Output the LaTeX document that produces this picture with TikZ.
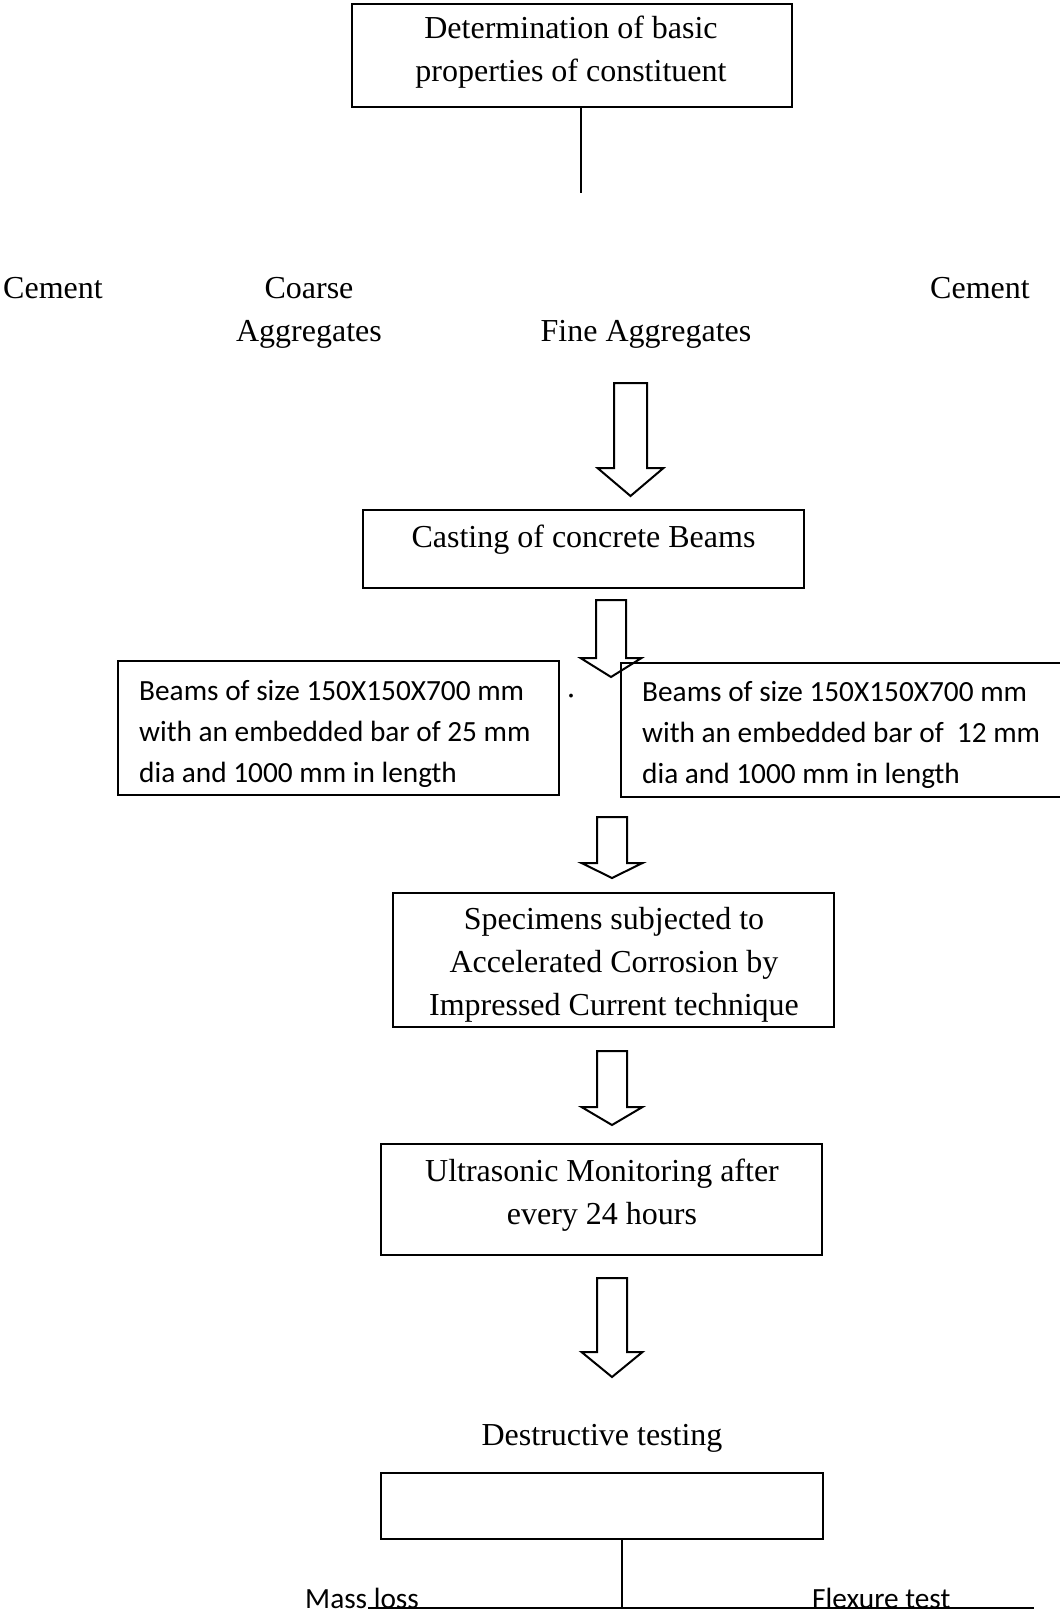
\documentclass[tikz,border=0pt]{standalone}
\usepackage{fontspec}
\setmainfont{Liberation Serif}
\newfontfamily\calib{Carlito}
\newcommand{\hollowarrow}[6]{%
  \draw[hollow] ({#1-#5},#2) -- ({#1+#5},#2) -- ({#1+#5},#3) -- ({#1+#6},#3) -- (#1,#4) -- ({#1-#6},#3) -- ({#1-#5},#3) -- cycle;}
\begin{document}
\begin{tikzpicture}[x=1pt,y=-1pt,
  box/.style={draw=black, line width=2pt, rectangle, inner sep=0pt, minimum width=441pt},
  serif/.style={font=\fontsize{32}{43}\selectfont, inner sep=0pt, align=center, anchor=base},
  sans/.style={font=\calib\fontsize{29.3}{41}\selectfont, inner sep=0pt, align=left, anchor=base west},
  conn/.style={draw=black, line width=2pt},
  hollow/.style={draw=black, line width=2pt, line join=miter}]
\useasboundingbox (0,0) rectangle (1060,1612);
\clip (0,0) rectangle (1060,1612);

% boxes
\node[box, minimum width=440pt, minimum height=103pt] (prop) at (572,55.5) {};
\node[box, minimum height=78pt] (cast) at (583.5,549) {};
\node[box, minimum height=134pt] (beamL) at (338.5,728) {};
\node[box, minimum height=134pt] (beamR) at (841.5,730) {};
\node[box, minimum height=134pt] (spec) at (613.5,960) {};
\node[box, minimum height=111pt] (ultra) at (601.5,1199.5) {};
\node[box, minimum width=442pt, minimum height=66pt] (dest) at (602,1506) {};

% texts (anchor base = baseline of the last line)
\node[serif] (tprop) at (571,81) {Determination of basic\\properties of constituent};
\node[serif] (cem1) at (53,298) {Cement};
\node[serif] (coarse) at (309,341) {Coarse\\Aggregates};
\node[serif] (fine) at (646,341) {Fine Aggregates};
\node[serif] (cem2) at (980,298) {Cement};
\node[serif] (tcast) at (583.5,547) {Casting of concrete Beams};
\node[sans] (tbeamL) at (139,782) {Beams of size 150X150X700 mm\\with an embedded bar of 25 mm\\dia and 1000 mm in length};
\node[sans] (tbeamR) at (642,783) {Beams of size 150X150X700 mm\\with an embedded bar of\ \ 12 mm\\dia and 1000 mm in length};
\node[serif] (dot) at (571,697) {.};
\node[serif] (tspec) at (614,1015) {Specimens subjected to\\Accelerated Corrosion by\\Impressed Current technique};
\node[serif] (tultra) at (602,1224) {Ultrasonic Monitoring after\\every 24 hours};
\node[serif] (tdest) at (602,1445) {Destructive testing};
\node[sans] (mass) at (305,1608) {Mass loss};
\node[sans] (flex) at (812,1608) {Flexure test};

% connectors
\coordinate (c1) at (581,193);
\draw[conn] (prop.south -| c1) -- (c1);
\coordinate (bm) at (622,1608);
\coordinate (bl) at (368,1608);
\coordinate (br) at (1034,1608);
\draw[conn] (dest.south -| bm) -- (bm);
\draw[conn] (bl) -- (br);

% hollow block arrows
\hollowarrow{630.5}{383}{468}{496}{16.5}{33}
\hollowarrow{611}{600}{658}{677}{15}{30.5}
\hollowarrow{612}{817}{863}{878}{15}{30.5}
\hollowarrow{612}{1051}{1107}{1125}{15}{30.5}
\hollowarrow{612}{1278}{1352}{1377}{15}{30.5}
\end{tikzpicture}
\end{document}
